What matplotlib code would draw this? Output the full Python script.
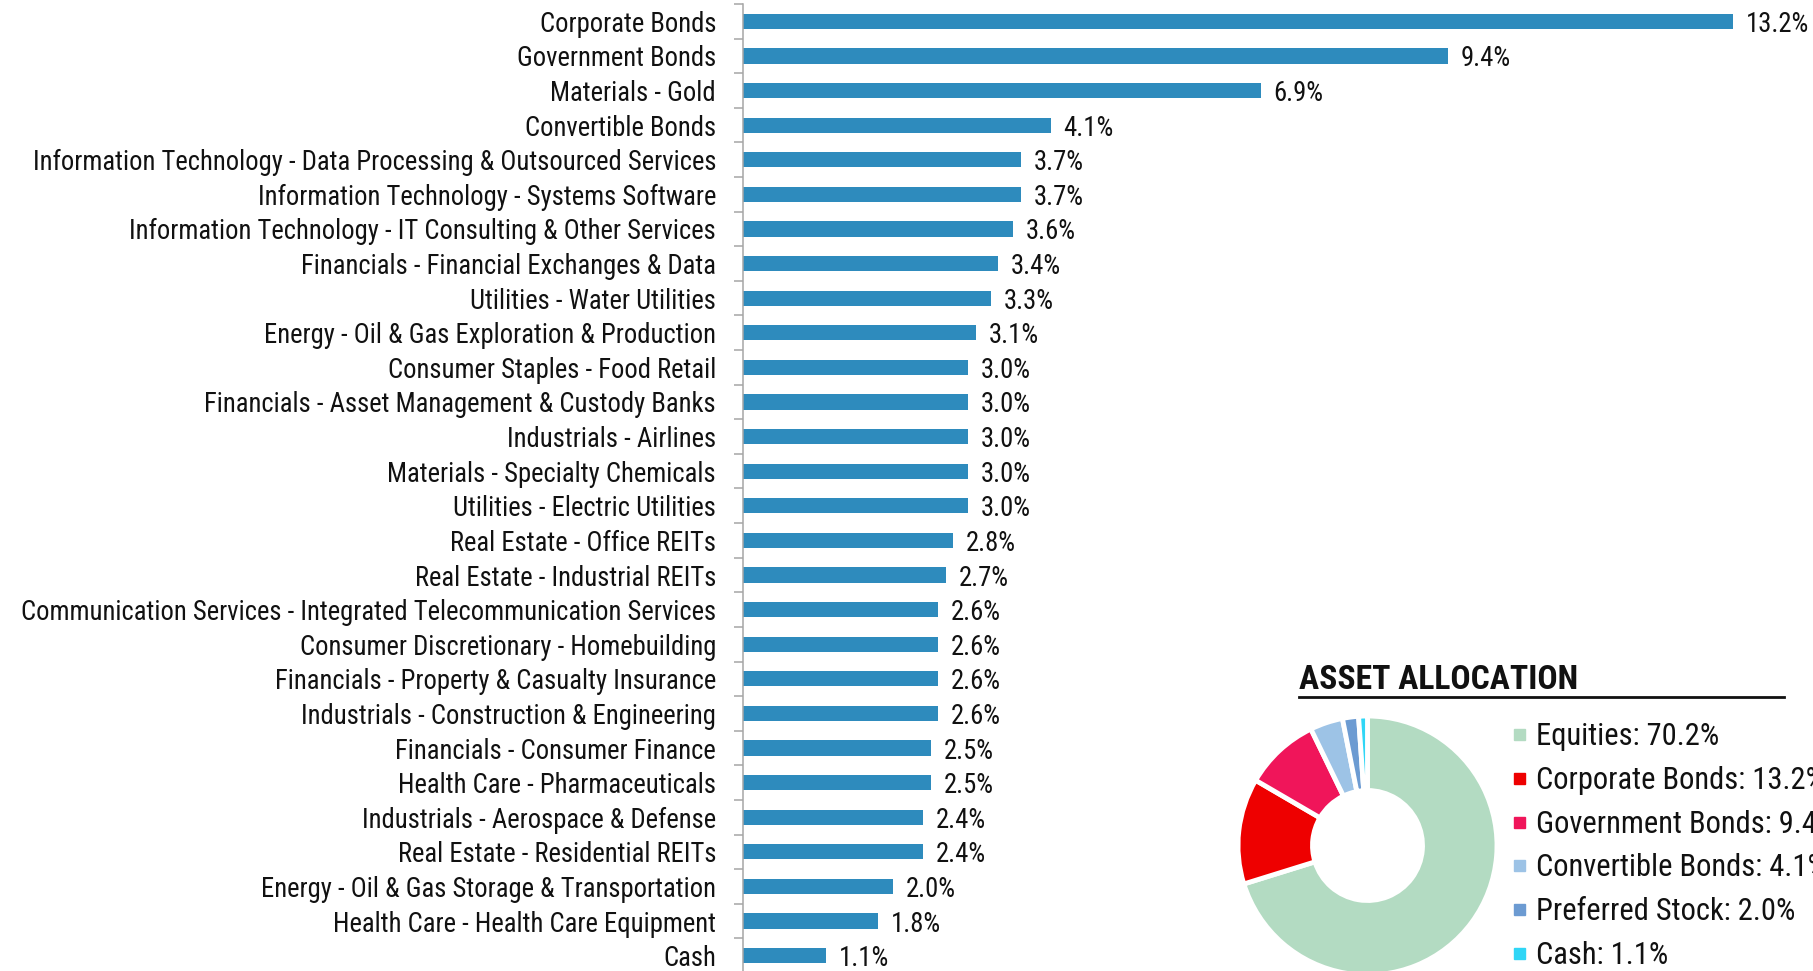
import matplotlib.pyplot as plt
from matplotlib.ticker import FixedLocator
import numpy as np

plt.rcParams['font.family'] = ['Roboto Condensed', 'Archivo Narrow', 'DejaVu Sans']

# holdings by sector, top to bottom
categories = ["Corporate Bonds", "Government Bonds", "Materials - Gold", "Convertible Bonds",
              "Information Technology - Data Processing & Outsourced Services",
              "Information Technology - Systems Software",
              "Information Technology - IT Consulting & Other Services",
              "Financials - Financial Exchanges & Data", "Utilities - Water Utilities",
              "Energy - Oil & Gas Exploration & Production", "Consumer Staples - Food Retail",
              "Financials - Asset Management & Custody Banks", "Industrials - Airlines",
              "Materials - Specialty Chemicals", "Utilities - Electric Utilities",
              "Real Estate - Office REITs", "Real Estate - Industrial REITs",
              "Communication Services - Integrated Telecommunication Services",
              "Consumer Discretionary - Homebuilding", "Financials - Property & Casualty Insurance",
              "Industrials - Construction & Engineering", "Financials - Consumer Finance",
              "Health Care - Pharmaceuticals", "Industrials - Aerospace & Defense",
              "Real Estate - Residential REITs", "Energy - Oil & Gas Storage & Transportation",
              "Health Care - Health Care Equipment", "Cash"]
values = [13.2, 9.4, 6.9, 4.1, 3.7, 3.7, 3.6, 3.4, 3.3, 3.1, 3.0, 3.0, 3.0, 3.0, 3.0,
          2.8, 2.7, 2.6, 2.6, 2.6, 2.6, 2.5, 2.5, 2.4, 2.4, 2.0, 1.8, 1.1]

# asset allocation donut
alloc_names = ["Equities", "Corporate Bonds", "Government Bonds", "Convertible Bonds",
               "Preferred Stock", "Cash"]
alloc_values = [70.2, 13.2, 9.4, 4.1, 2.0, 1.1]
alloc_colors = ["#b3dbc2", "#ee0000", "#f0155a", "#9dc3e6", "#6c9bd2", "#2fd6f6"]

W, H = 1813, 971
fig = plt.figure(figsize=(W / 100, H / 100), dpi=100)

# bar chart
ax = fig.add_axes([743 / W, -2 / H, (W - 743) / W, 969 / H])
y = np.arange(len(categories))
ax.barh(y, values, height=0.44, color="#2e8bbd")
ax.set_ylim(len(categories) - 0.5, -0.5)
ax.set_xlim(0, (W - 743) / 75.0)
ax.set_yticks(y)
ax.set_yticklabels(categories, fontsize=19.2, color="#111111")
ax.yaxis.set_minor_locator(FixedLocator(np.arange(len(categories) + 1) - 0.5))
ax.tick_params(axis="y", which="major", length=0, pad=19.4)
ax.tick_params(axis="y", which="minor", length=6.5, color="#a6a6a6", width=1.1)
ax.set_xticks([])
for s in ["top", "right", "bottom"]:
    ax.spines[s].set_visible(False)
ax.spines["left"].set_color("#a6a6a6")
ax.spines["left"].set_linewidth(1.1)
for yi, v in zip(y, values):
    ax.text(v + 0.173, yi, f"{v:.1f}%", va="center_baseline", ha="left", fontsize=19.2,
            color="#111111")

# donut
pax = fig.add_axes([(1367.5 - 135) / W, 1 - (845.5 + 135) / H, 270 / W, 270 / H])
pax.pie(alloc_values, colors=alloc_colors, startangle=90, counterclock=False, radius=129.5 / 135,
        wedgeprops=dict(width=74.5 / 135, edgecolor="white", linewidth=3.5))
pax.set_aspect("equal")
pax.set_xlim(-1, 1)
pax.set_ylim(-1, 1)

fig.text(1299 / W, 1 - 689 / H, "ASSET ALLOCATION", fontsize=24.2, fontweight="bold",
         color="#111111", ha="left", va="baseline")
fig.add_artist(plt.Line2D([1299 / W, 1784 / W], [1 - 696.5 / H, 1 - 696.5 / H],
                          color="#111111", linewidth=2.0))

for i, (n, v, c) in enumerate(zip(alloc_names, alloc_values, alloc_colors)):
    base = 745 + i * 43.8
    fig.patches.append(plt.Rectangle((1514 / W, 1 - (base - 5) / H), 11 / W, 11 / H,
                                     color=c, transform=fig.transFigure, figure=fig))
    fig.text(1536 / W, 1 - base / H, f"{n}: {v:.1f}%", fontsize=22, color="#111111",
             ha="left", va="baseline")

fig.savefig("out.png", dpi=100)
